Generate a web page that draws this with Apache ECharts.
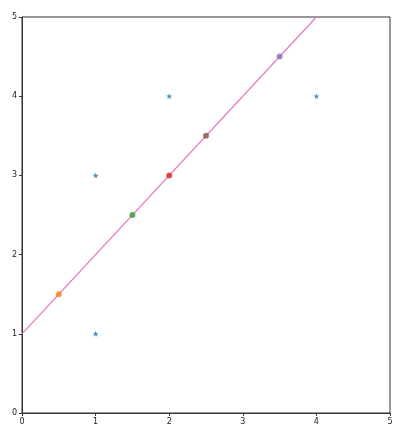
<!DOCTYPE html>
<html><head><meta charset="utf-8">
<script src="https://cdn.jsdelivr.net/npm/echarts@6/dist/echarts.min.js"></script>
<style>html,body{margin:0;padding:0;background:#fff}#c{width:404px;height:435px}</style>
</head><body><div id="c"></div>
<script>
const starPoints = [[1,1],[1,3],[2,4],[4,4]];
const dotPoints = [[0.5,1.5],[1.5,2.5],[2,3],[2.5,3.5],[3.5,4.5]];
const dotColors = ['#ff7f0e','#2ca02c','#d62728','#8c564b','#9467bd'];
const lineX = [0, 4];
const lineY = [1, 5];
const ticks = [0,1,2,3,4,5];

const star = 'path://M0,-10 L2.35,-3.24 L9.51,-3.09 L3.8,1.24 L5.88,8.09 L0,4 L-5.88,8.09 L-3.8,1.24 L-9.51,-3.09 L-2.35,-3.24 Z';
const axisCommon = {
  type:'value', min:0, max:5, interval:1,
  axisLine:{show:true, onZero:false, lineStyle:{color:'#333', width:1}},
  axisTick:{show:true, inside:false, length:3, lineStyle:{color:'#333'}},
  axisLabel:{color:'#222', fontSize:8, fontFamily:'DejaVu Sans', margin:5},
  splitLine:{show:false}
};
const chart = echarts.init(document.getElementById('c'), null, {renderer:'canvas'});
const series = [{
  type:'line', data: lineX.map((x,i)=>[x,lineY[i]]), showSymbol:false, symbol:'none',
  lineStyle:{color:'#e377c2', width:1.2}, clip:true, z:1, animation:false
},{
  type:'scatter', data: starPoints, symbol: star, symbolSize:6,
  itemStyle:{color:'#1f77b4'}, z:3, animation:false
}];
dotPoints.forEach((p,i)=>{
  series.push({type:'scatter', data:[p], symbol:'circle', symbolSize:6,
    itemStyle:{color:dotColors[i]}, z:3, animation:false});
});
chart.setOption({
  animation:false,
  grid:{left:22, right:14, top:17, bottom:22, show:true, borderColor:'#333', borderWidth:1, backgroundColor:'transparent'},
  xAxis: Object.assign({}, axisCommon, {axisLabel:Object.assign({}, axisCommon.axisLabel, {formatter:v=>String(ticks[v])})}),
  yAxis: Object.assign({}, axisCommon),
  series
});
</script></body></html>
